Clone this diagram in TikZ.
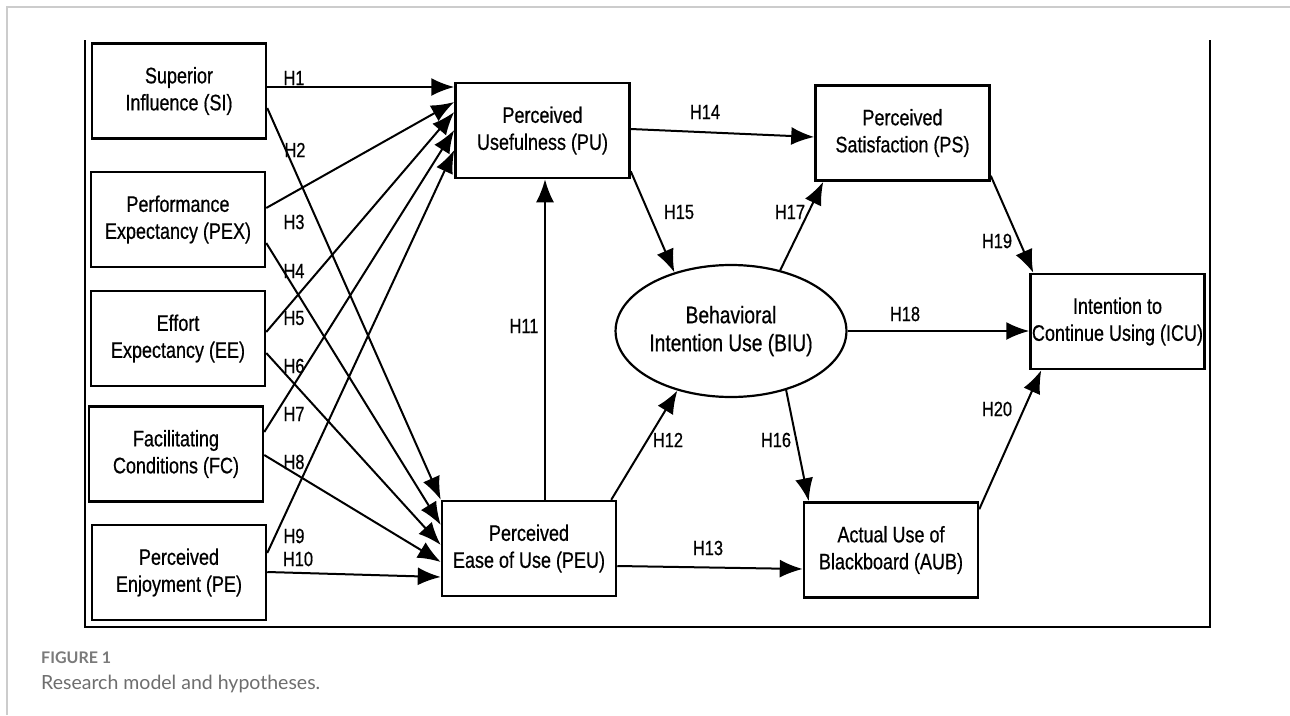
\documentclass[tikz,border=0pt]{standalone}
\usepackage{fontspec}
\usetikzlibrary{arrows.meta,shapes.geometric}
\newfontfamily\diagfont{Liberation Sans}[FakeStretch=0.8,FakeBold=0.6]
\newfontfamily\capfont{Lato}
\definecolor{cardgray}{HTML}{CCCCCC}
\definecolor{capgray}{HTML}{7A7A7A}
\definecolor{captext}{HTML}{6E6E6E}
\tikzset{
  box/.style={draw=black, line width=2.5pt, fill=white, rectangle, inner sep=0pt,
    minimum width=174pt, minimum height=95pt, align=center,
    font=\diagfont\fontsize{22.5}{27}\selectfont},
  oval/.style={draw=black, line width=2.2pt, fill=white, ellipse, inner sep=0pt,
    minimum width=184pt, minimum height=132pt, align=center,
    font=\diagfont\fontsize{24}{28}\selectfont},
  conn/.style={line width=2pt, -{Latex[length=23pt,width=18pt]}},
  hlab/.style={font=\diagfont\fontsize{20.5}{22}\selectfont, inner sep=0pt},
  frameline/.style={line width=1.8pt, draw=black},
}
\begin{document}
\begin{tikzpicture}[x=1pt,y=-1pt]
\useasboundingbox (0,0) rectangle (1290,715);
\fill[white] (0,0) rectangle (1290,715);
% card border
\draw[cardgray, line width=2pt] (7,715) -- (7,7) -- (1290,7);
% diagram frame
\draw[frameline] (85,40) -- (85,627) -- (1210,627) -- (1210,40);

% nodes
\node[box] (SI)  at (179,91)    {Superior\\Influence (SI)};
\node[box] (PEX) at (178,219.5) {Performance\\Expectancy (PEX)};
\node[box] (EE)  at (178,338.5) {Effort\\Expectancy (EE)};
\node[box] (FC)  at (176,454)   {Facilitating\\Conditions (FC)};
\node[box] (PE)  at (179,572.5) {Perceived\\Enjoyment (PE)};
\node[box] (PU)  at (542.5,130.5) {Perceived\\Usefulness (PU)};
\node[box] (PS)  at (902.5,133) {Perceived\\Satisfaction (PS)};
\node[oval] (BIU) at (731,331) {Behavioral\\Intention Use (BIU)};
\node[box] (PEU) at (529,548.5) {Perceived\\Ease of Use (PEU)};
\node[box] (AUB) at (891,550) {Actual Use of\\Blackboard (AUB)};
\node[box] (ICU) at (1117.5,321.5) {Intention to\\Continue Using (ICU)};

% connectors into PU
\draw[conn] ([yshift=4pt]SI.east)    -- ([yshift=43.5pt]PU.west);
\draw[conn] ([yshift=11.5pt]PEX.east) -- ([yshift=28.5pt]PU.west);
\draw[conn] ([yshift=6.5pt]EE.east)  -- ([yshift=18.5pt]PU.west);
\draw[conn] ([yshift=22pt]FC.east)   -- ([yshift=0.5pt]PU.west);
\draw[conn] ([yshift=19.5pt]PE.east) -- ([yshift=-19.5pt]PU.west);
% connectors into PEU
\draw[conn] ([yshift=-17pt]SI.east)   -- (PEU.north west);
\draw[conn] ([yshift=-23.5pt]PEX.east) -- ([yshift=23.5pt]PEU.west);
\draw[conn] ([yshift=-14.5pt]EE.east) -- ([yshift=3.5pt]PEU.west);
\draw[conn] ([yshift=-1pt]FC.east)    -- ([yshift=-13.5pt]PEU.west);
\draw[conn] ([yshift=0.5pt]PE.east)   -- ([yshift=-28.5pt]PEU.west);

% other connectors
\draw[conn] ([xshift=16pt]PEU.north) -- ([xshift=16pt]PEU.north |- PU.south);
\draw[conn] ([xshift=-6pt]PEU.north east) -- (BIU.228);
\draw[conn] ([yshift=-17.5pt]PEU.east) -- ([yshift=-19pt]AUB.west);
\draw[conn] ([yshift=1.5pt]PU.east) -- ([yshift=-4pt]PS.west);
\draw[conn] ([yshift=8pt]PU.south east) -- (BIU.134);
\draw[conn] (BIU.-47) -- ([xshift=6pt]AUB.north west);
\draw[conn] (BIU.51) -- ([xshift=9pt]PS.south west);
\draw[conn] (BIU.east) -- (BIU.east -| ICU.west);
\draw[conn] ([yshift=6pt]PS.south east) -- ([xshift=4pt]ICU.north west);
\draw[conn] ([yshift=-8pt]AUB.north east) -- ([xshift=12pt]ICU.south west);

% hypothesis labels
\node[hlab] (h1)  at (294,78)  {H1};
\node[hlab] (h2)  at (295,150) {H2};
\node[hlab] (h3)  at (294,222) {H3};
\node[hlab] (h4)  at (294,271) {H4};
\node[hlab] (h5)  at (294,318) {H5};
\node[hlab] (h6)  at (294,366) {H6};
\node[hlab] (h7)  at (294,414) {H7};
\node[hlab] (h8)  at (294,462) {H8};
\node[hlab] (h9)  at (294,536) {H9};
\node[hlab] (h10) at (298,559) {H10};
\node[hlab] (h11) at (524,326) {H11};
\node[hlab] (h12) at (668,440) {H12};
\node[hlab] (h13) at (708,548) {H13};
\node[hlab] (h14) at (705,112) {H14};
\node[hlab] (h15) at (679,212) {H15};
\node[hlab] (h16) at (776,440) {H16};
\node[hlab] (h17) at (790,212) {H17};
\node[hlab] (h18) at (905,314) {H18};
\node[hlab] (h19) at (997,241) {H19};
\node[hlab] (h20) at (997,409) {H20};

% caption
\node[anchor=base west, inner sep=0pt, text=capgray, font=\capfont\bfseries\fontsize{16}{18}\selectfont] (figlab) at (41,663) {FIGURE 1};
\node[anchor=base west, inner sep=0pt, text=captext, font=\capfont\fontsize{19.5}{22}\selectfont] (figcap) at (41,689) {Research model and hypotheses.};
\end{tikzpicture}
\end{document}
